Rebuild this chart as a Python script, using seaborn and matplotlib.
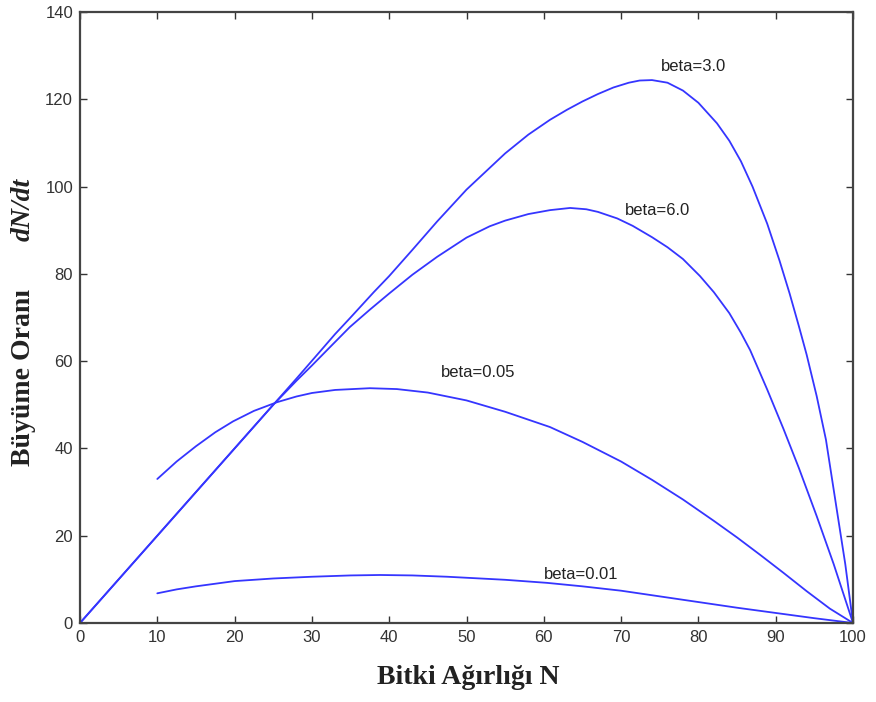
import matplotlib
matplotlib.use("Agg")
import matplotlib.pyplot as plt
import seaborn as sns
import pandas as pd

# --- data ---
beta30_N = [0, 10, 20, 25, 28, 30.7, 33, 35, 38, 40, 43, 46.2, 50, 55, 58, 60.8, 63, 65, 67, 69, 71, 72.4,
            74, 76, 78, 80, 82.4, 84, 85.5, 87, 88.9, 90.5, 91.8, 93, 94, 95.3, 96.5, 97.9, 99, 100]
beta30_y = [0, 20, 40, 50, 56, 61.5, 66.2, 70, 75.8, 79.5, 85.5, 92, 99.3, 107.6, 111.9, 115.3, 117.6, 119.5, 121.2, 122.7, 123.8, 124.3,
            124.4, 123.8, 122, 119.2, 114.5, 110.5, 105.8, 100, 91.5, 83, 75.5, 68, 61.5, 52, 42, 26, 13.5, 0]

beta60_N = [0, 10, 20, 25, 28, 30, 32.5, 34.9, 37.5, 40, 43, 46.2, 50, 53, 55, 58, 60.8, 63.4, 65.5, 67, 69.5, 71.5,
            74, 76, 78, 80.2, 82, 84, 85.5, 86.7, 88.9, 91, 93, 95.3, 97.5, 100]
beta60_y = [0, 20, 40, 50, 55.5, 59, 63.5, 67.8, 71.8, 75.5, 79.8, 83.9, 88.3, 90.9, 92.2, 93.7, 94.6, 95.1, 94.8, 94.2, 92.7, 91.0,
            88.4, 86.1, 83.4, 79.5, 75.8, 71.0, 66.5, 62.5, 53.5, 44.5, 35.5, 24.5, 13.5, 0]

beta005_N = [10, 12.5, 15, 17.5, 19.8, 22.5, 25.5, 28, 30, 33, 37.5, 41, 45, 50, 55, 60.8, 65, 70, 74, 78, 82, 85, 88, 91, 94, 97, 100]
beta005_y = [33, 37, 40.5, 43.7, 46.2, 48.6, 50.6, 51.9, 52.7, 53.4, 53.8, 53.6, 52.8, 51, 48.4, 44.9, 41.5, 37, 32.8, 28.3, 23.4, 19.6, 15.6, 11.5, 7.3, 3.3, 0]

beta001_N = [10, 12.5, 15, 17.5, 20, 25, 30, 35, 38.8, 43, 47.5, 55, 60.4, 65, 70, 75, 80, 85, 90, 95, 100]
beta001_y = [6.8, 7.7, 8.4, 9.0, 9.6, 10.2, 10.6, 10.9, 11, 10.9, 10.6, 9.9, 9.2, 8.4, 7.4, 6.1, 4.8, 3.5, 2.3, 1.1, 0]

series_names = ["beta=3.0", "beta=6.0", "beta=0.05", "beta=0.01"]
label_pos_N = [75.2, 70.5, 46.7, 60.0]
label_pos_y = [127.4, 94.6, 57.5, 11.0]

x_ticks = list(range(0, 101, 10))
y_ticks = list(range(0, 141, 20))

frames = []
for name, xs, ys in zip(series_names,
                        [beta30_N, beta60_N, beta005_N, beta001_N],
                        [beta30_y, beta60_y, beta005_y, beta001_y]):
    frames.append(pd.DataFrame({"N": xs, "rate": ys, "series": name}))
df = pd.concat(frames, ignore_index=True)

sns.set_style("ticks")
plt.rcParams["font.family"] = ["Liberation Sans", "DejaVu Sans"]

fig = plt.figure(figsize=(8.76, 7.02), dpi=100)
ax = fig.add_axes([80 / 876, 1 - 623 / 702, (853 - 80) / 876, (623 - 12) / 702])

blue = "#3535ff"
sns.lineplot(data=df, x="N", y="rate", hue="series", units="series",
             estimator=None, sort=False, palette={n: blue for n in series_names},
             legend=False, linewidth=1.3, ax=ax)

for name, lx, ly in zip(series_names, label_pos_N, label_pos_y):
    ax.text(lx, ly, name, fontsize=12, color="#222222", ha="left", va="center")

ax.set_xlim(0, 100)
ax.set_ylim(0, 140)
ax.set_xticks(x_ticks)
ax.set_yticks(y_ticks)
ax.tick_params(direction="in", top=True, right=True, length=5, width=1,
               labelsize=12, labelcolor="#333333", color="#333333", pad=5)
for sp in ax.spines.values():
    sp.set_visible(True)
    sp.set_linewidth(1.6)
    sp.set_color("#444444")

ax.set_xlabel("")
ax.set_ylabel("")
fig.text(468 / 876, 1 - 678 / 702, "Bitki Ağırlığı N", family="Liberation Serif",
         fontweight="bold", fontsize=20, ha="center", va="center", color="#222222")
fig.text(24 / 876, 1 - 377 / 702, "Büyüme Oranı", family="Liberation Serif",
         fontweight="bold", fontsize=20, ha="center", va="center", rotation=90,
         color="#222222")
fig.text(23 / 876, 1 - 209 / 702, "dN/dt", family="Liberation Serif",
         fontweight="bold", fontstyle="italic", fontsize=20, ha="center",
         va="center", rotation=90, color="#222222")

fig.savefig("out.png", dpi=100, facecolor="white")
